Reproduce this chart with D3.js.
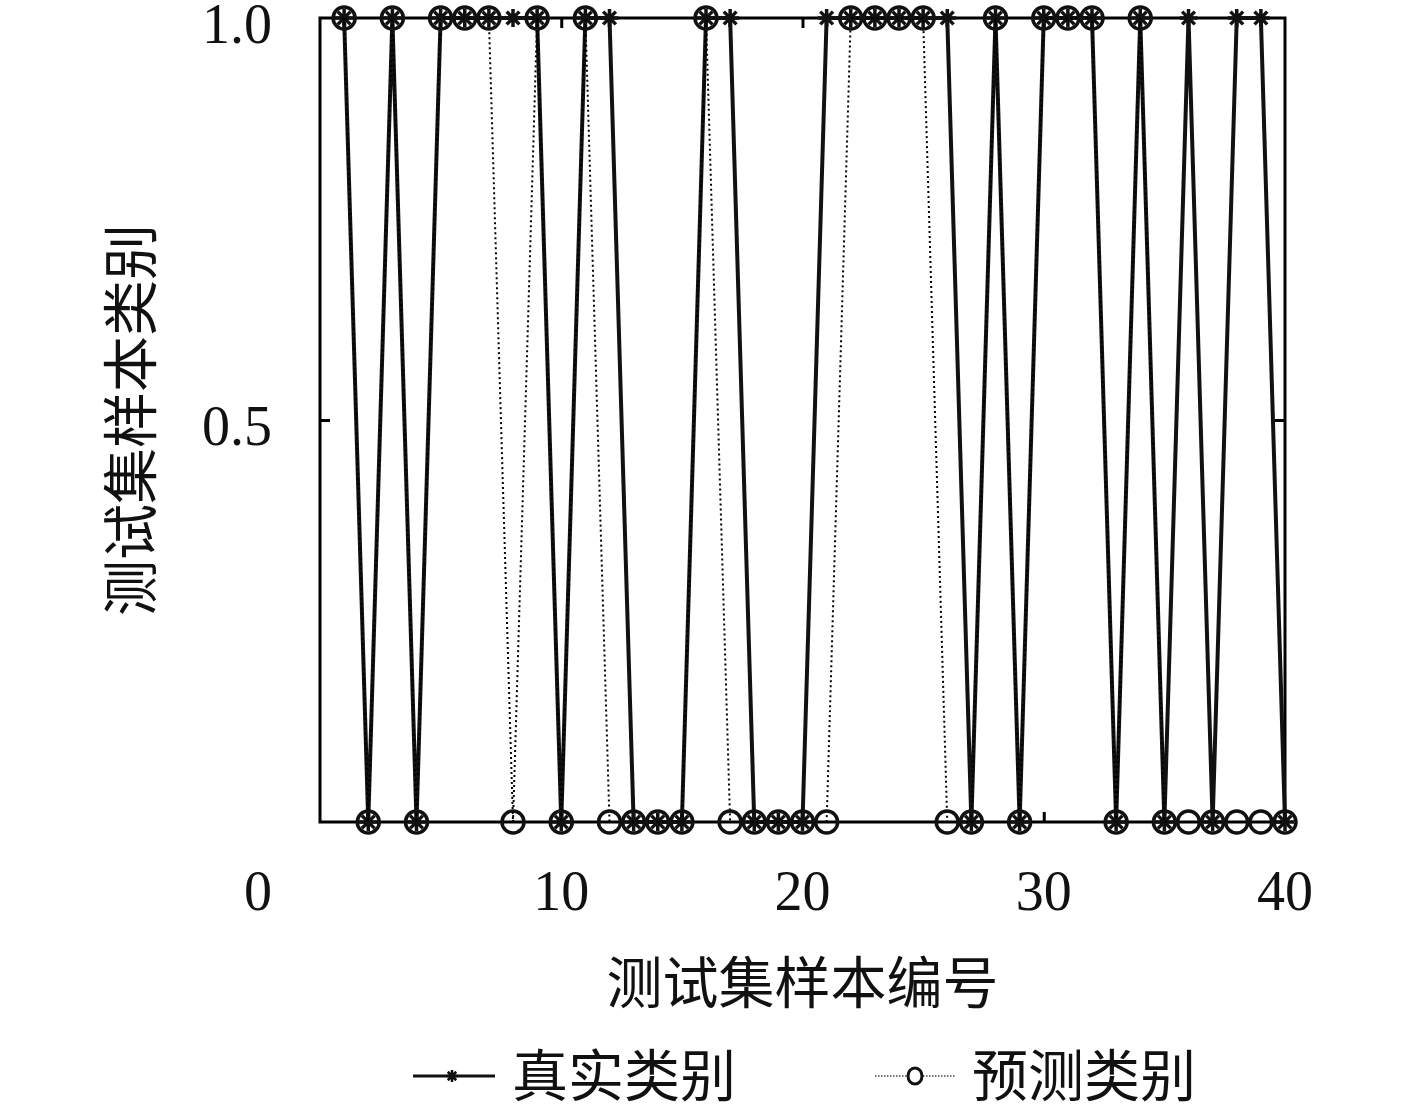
<!DOCTYPE html>
<html>
<head>
<meta charset="utf-8">
<script src="https://cdn.jsdelivr.net/npm/d3@7"></script>
<style>
    body { margin: 0; background: #fff; }
    .tick-label { font-family: "Liberation Serif", "DejaVu Serif", serif; font-size: 56px; fill: #111; }
    .cjk { font-family: "Noto Sans CJK SC", sans-serif; font-size: 56px; fill: #111; }
</style>
</head>
<body>
<div id="content"></div>
<script>
// sample numbers of the test set
var sampleIds = [1, 2, 3, 4, 5, 6, 7, 8, 9, 10,
    11, 12, 13, 14, 15, 16, 17, 18, 19, 20,
    21, 22, 23, 24, 25, 26, 27, 28, 29, 30,
    31, 32, 33, 34, 35, 36, 37, 38, 39, 40];

// 真实类别
var trueClass = [1, 0, 1, 0, 1, 1, 1, 1, 1, 0,
    1, 1, 0, 0, 0, 1, 1, 0, 0, 0,
    1, 1, 1, 1, 1, 1, 0, 1, 0, 1,
    1, 1, 0, 1, 0, 1, 0, 1, 1, 0];

// 预测类别
var predClass = [1, 0, 1, 0, 1, 1, 1, 0, 1, 0,
    1, 0, 0, 0, 0, 1, 0, 0, 0, 0,
    0, 1, 1, 1, 1, 0, 0, 1, 0, 1,
    1, 1, 0, 1, 0, 0, 0, 0, 0, 0];

var xDomain = [0, 40];
var yDomain = [0, 1];
var xTicks = [10, 20, 30, 40];
var yTicks = [0.5, 1.0];
var originLabel = "0";
var xTitle = "测试集样本编号";
var yTitle = "测试集样本类别";
var seriesNames = ["真实类别", "预测类别"];

var chart = (function () {

    "use strict";

    var width = 1417,
        height = 1110,
        left = 320,
        right = 1285,
        top = 18,
        bottom = 822;

    var x = d3.scaleLinear().domain(xDomain).range([left, right]),
        y = d3.scaleLinear().domain(yDomain).range([bottom, top]);

    /* marker helpers */

    function starPath(r) {
        var d = r * Math.SQRT1_2;
        return "M0," + (-r) + "V" + r +
            "M" + (-r) + ",0H" + r +
            "M" + (-d) + "," + (-d) + "L" + d + "," + d +
            "M" + (-d) + "," + d + "L" + d + "," + (-d);
    }

    function pairs(values) {
        return sampleIds.map(function (id, i) {
            return {x: id, y: values[i]};
        });
    }

    function inner(ticks, max) {
        return ticks.filter(function (t) { return t < max; });
    }

    function render() {

        var svg = d3.select("#content").append("svg")
            .attr("width", width)
            .attr("height", height);

        var line = d3.line()
            .x(function (d) { return x(d.x); })
            .y(function (d) { return y(d.y); });

        // axes box with inward ticks
        svg.append("g").attr("transform", "translate(0," + bottom + ")")
            .call(d3.axisBottom(x).tickValues(inner(xTicks, xDomain[1])).tickSize(-10).tickFormat(""));
        svg.append("g").attr("transform", "translate(0," + top + ")")
            .call(d3.axisTop(x).tickValues(inner(xTicks, xDomain[1])).tickSize(-10).tickFormat(""));
        svg.append("g").attr("transform", "translate(" + left + ",0)")
            .call(d3.axisLeft(y).tickValues(inner(yTicks, yDomain[1])).tickSize(-10).tickFormat(""));
        svg.append("g").attr("transform", "translate(" + right + ",0)")
            .call(d3.axisRight(y).tickValues(inner(yTicks, yDomain[1])).tickSize(-10).tickFormat(""));

        svg.selectAll(".domain").remove();
        svg.selectAll(".tick line").attr("stroke", "#000").attr("stroke-width", 3);

        svg.append("rect")
            .attr("x", left)
            .attr("y", top)
            .attr("width", right - left)
            .attr("height", bottom - top)
            .attr("fill", "none")
            .attr("stroke", "#000")
            .attr("stroke-width", 3);

        // tick labels
        svg.selectAll(".xlab")
            .data(xTicks)
            .enter()
            .append("text")
            .attr("class", "tick-label")
            .attr("x", function (d) { return x(d); })
            .attr("y", bottom + 68)
            .attr("dy", "0.35em")
            .attr("text-anchor", "middle")
            .text(function (d) { return d; });

        svg.selectAll(".ylab")
            .data(yTicks)
            .enter()
            .append("text")
            .attr("class", "tick-label")
            .attr("x", left - 48)
            .attr("y", function (d) { return y(d) + 5; })
            .attr("dy", "0.35em")
            .attr("text-anchor", "end")
            .text(function (d) { return d3.format(".1f")(d); });

        svg.append("text")
            .attr("class", "tick-label")
            .attr("x", left - 62)
            .attr("y", bottom + 68)
            .attr("dy", "0.35em")
            .attr("text-anchor", "middle")
            .text(originLabel);

        // axis titles
        svg.append("text")
            .attr("class", "cjk")
            .attr("x", (left + right) / 2)
            .attr("y", 983)
            .attr("dy", "0.35em")
            .attr("text-anchor", "middle")
            .text(xTitle);

        svg.append("text")
            .attr("class", "cjk")
            .attr("transform", "translate(131," + ((top + bottom) / 2) + ") rotate(-90)")
            .attr("dy", "0.35em")
            .attr("text-anchor", "middle")
            .text(yTitle);

        // true class: solid line with asterisks
        var truePts = pairs(trueClass);
        svg.append("path")
            .datum(truePts)
            .attr("d", line)
            .attr("fill", "none")
            .attr("stroke", "#111")
            .attr("stroke-width", 4);

        svg.selectAll(".star")
            .data(truePts)
            .enter()
            .append("path")
            .attr("transform", function (d) { return "translate(" + x(d.x) + "," + y(d.y) + ")"; })
            .attr("d", starPath(9))
            .attr("fill", "none")
            .attr("stroke", "#111")
            .attr("stroke-width", 3.5);

        // predicted class: dotted line with circles
        var predPts = pairs(predClass);
        svg.append("path")
            .datum(predPts)
            .attr("d", line)
            .attr("fill", "none")
            .attr("stroke", "#000")
            .attr("stroke-width", 2)
            .attr("stroke-dasharray", "2,3");

        svg.selectAll(".circ")
            .data(predPts)
            .enter()
            .append("circle")
            .attr("cx", function (d) { return x(d.x); })
            .attr("cy", function (d) { return y(d.y); })
            .attr("r", 11)
            .attr("fill", "none")
            .attr("stroke", "#111")
            .attr("stroke-width", 3.5);

        // legend
        var ly = 1076;
        var leg1 = svg.append("g");
        leg1.append("line")
            .attr("x1", 413).attr("x2", 495).attr("y1", ly).attr("y2", ly)
            .attr("stroke", "#111").attr("stroke-width", 3);
        leg1.append("path")
            .attr("transform", "translate(452," + ly + ")")
            .attr("d", starPath(6))
            .attr("fill", "none").attr("stroke", "#111").attr("stroke-width", 2.5);
        leg1.append("text")
            .attr("class", "cjk")
            .attr("x", 512).attr("y", ly)
            .attr("dy", "0.35em")
            .text(seriesNames[0]);

        var leg2 = svg.append("g");
        leg2.append("line")
            .attr("x1", 875).attr("x2", 955).attr("y1", ly).attr("y2", ly)
            .attr("stroke", "#444").attr("stroke-width", 1.5)
            .attr("stroke-dasharray", "1.5,1.5");
        leg2.append("ellipse")
            .attr("cx", 915).attr("cy", ly).attr("rx", 7).attr("ry", 8)
            .attr("fill", "#fff").attr("stroke", "#111").attr("stroke-width", 3);
        leg2.append("text")
            .attr("class", "cjk")
            .attr("x", 972).attr("y", ly)
            .attr("dy", "0.35em")
            .text(seriesNames[1]);
    }

    return {
        render: render
    };

}());

chart.render();
</script>
</body>
</html>
